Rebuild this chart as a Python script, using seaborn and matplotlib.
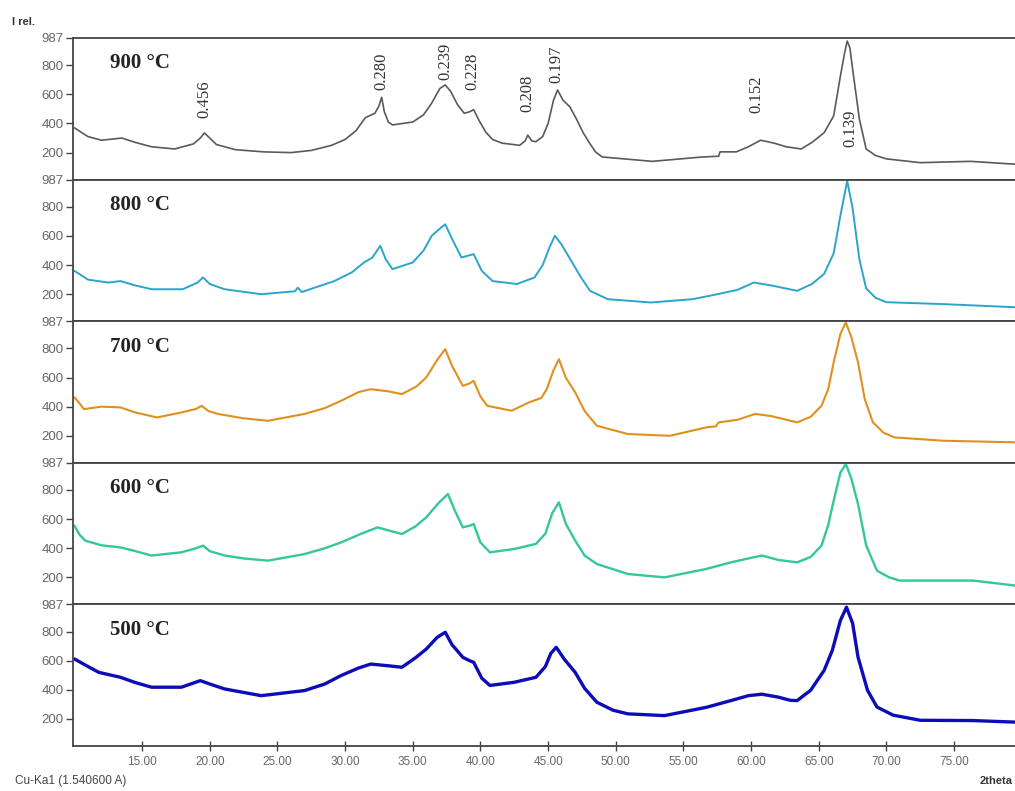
import numpy as np
import pandas as pd
import seaborn as sns
import matplotlib
matplotlib.use("Agg")
import matplotlib.pyplot as plt

sns.set_style("white")
plt.rcParams['font.family'] = ['Liberation Sans', 'DejaVu Sans']

# XRD patterns (2theta in degrees, relative intensity)
tt_900 = [10.0, 11.0, 12.0, 13.5, 14.5, 15.7, 17.4, 18.8, 19.3, 19.6, 20.0, 20.5, 21.9, 24.0,
          26.0, 27.5, 29.0, 30.0, 30.8, 31.5, 32.2, 32.5, 32.7, 32.9, 33.2, 33.5, 35.0, 35.8,
          36.4, 37.0, 37.4, 37.8, 38.3, 38.8, 39.2, 39.5, 39.9, 40.4, 40.9, 41.6, 42.9, 43.3,
          43.5, 43.8, 44.1, 44.6, 45.0, 45.4, 45.7, 46.1, 46.6, 47.1, 47.6, 48.1, 48.5, 49.0,
          52.7, 56.4, 57.6, 57.7, 58.9, 59.8, 60.7, 61.7, 62.6, 63.7, 64.5, 65.4, 66.1, 66.6,
          66.9, 67.1, 67.3, 67.5, 68.0, 68.5, 69.2, 70.0, 72.5, 76.2, 79.6]
i_900 = [370, 310, 285, 300, 270, 240, 225, 260, 300, 335, 300, 255, 220, 205,
         200, 215, 250, 290, 350, 440, 470, 520, 580, 480, 410, 390, 410, 460,
         540, 640, 665, 620, 530, 470, 480, 495, 420, 340, 290, 265, 250, 280,
         320, 280, 275, 310, 400, 560, 630, 560, 515, 430, 335, 260, 205, 170,
         140, 170, 175, 205, 205, 240, 285, 265, 240, 225, 270, 337, 452, 726,
         880, 966, 920, 774, 431, 225, 180, 157, 131, 140, 120]

tt_800 = [10.0, 11.0, 12.5, 13.4, 14.5, 15.7, 18.0, 19.1, 19.5, 20.0, 21.1, 23.8, 26.3, 26.5,
          26.8, 29.2, 30.5, 31.4, 32.0, 32.6, 33.0, 33.5, 35.0, 35.8, 36.4, 37.0, 37.4, 37.9,
          38.6, 39.1, 39.5, 40.1, 40.9, 42.7, 44.0, 44.6, 45.1, 45.5, 46.0, 46.7, 47.4, 48.1,
          49.4, 52.6, 55.7, 57.5, 59.0, 60.2, 61.5, 63.4, 64.5, 65.4, 66.1, 66.6, 67.1, 67.5,
          68.0, 68.5, 69.2, 70.0, 74.2, 79.6]
i_800 = [360, 300, 280, 290, 260, 234, 234, 280, 315, 270, 234, 200, 220, 245,
         215, 290, 350, 418, 450, 532, 440, 372, 418, 500, 601, 650, 680, 580,
         452, 465, 475, 360, 290, 270, 315, 400, 520, 601, 540, 430, 320, 223,
         166, 143, 166, 200, 230, 280, 260, 223, 270, 340, 480, 740, 978, 790,
         440, 240, 175, 145, 132, 110]

tt_700 = [10.0, 10.4, 10.7, 12.0, 13.4, 14.5, 16.1, 17.9, 19.0, 19.4, 19.9, 20.6, 22.5, 24.3,
          27.0, 28.5, 29.7, 31.0, 31.9, 33.2, 34.2, 35.3, 36.0, 36.8, 37.4, 37.9, 38.7, 39.2,
          39.5, 40.0, 40.5, 42.3, 43.6, 44.5, 44.9, 45.4, 45.8, 46.3, 47.0, 47.7, 48.6, 50.9,
          54.0, 56.7, 57.4, 57.6, 59.0, 60.3, 61.5, 63.4, 64.4, 65.2, 65.7, 66.1, 66.6, 67.0,
          67.4, 67.9, 68.4, 69.0, 69.8, 70.6, 74.2, 79.6]
i_700 = [464, 420, 383, 400, 395, 360, 326, 360, 385, 406, 370, 350, 320, 303,
         350, 390, 440, 500, 520, 505, 486, 540, 601, 720, 795, 680, 543, 560,
         577, 470, 406, 372, 430, 460, 520, 650, 726, 600, 498, 370, 269, 212,
         200, 258, 265, 292, 310, 350, 335, 292, 330, 406, 520, 704, 900, 978,
         880, 704, 450, 292, 220, 189, 166, 155]

tt_600 = [10.0, 10.4, 10.8, 12.0, 13.4, 14.5, 15.7, 17.9, 19.0, 19.5, 20.0, 21.1, 22.5, 24.3,
          27.0, 28.5, 29.7, 31.2, 32.4, 33.3, 34.2, 35.2, 36.0, 36.9, 37.6, 38.1, 38.7, 39.2,
          39.5, 40.0, 40.7, 42.5, 44.1, 44.8, 45.3, 45.8, 46.3, 47.0, 47.7, 48.6, 50.9, 53.6,
          56.7, 58.5, 59.8, 60.8, 62.0, 63.4, 64.4, 65.2, 65.7, 66.1, 66.6, 67.0, 67.4, 67.9,
          68.5, 69.3, 70.2, 71.0, 76.4, 79.6]
i_600 = [555, 490, 452, 420, 406, 380, 350, 372, 400, 418, 380, 350, 330, 315,
         360, 400, 440, 500, 543, 520, 498, 550, 612, 710, 772, 660, 543, 555,
         566, 440, 372, 395, 430, 500, 640, 715, 570, 452, 350, 292, 223, 200,
         258, 303, 330, 350, 320, 303, 340, 418, 560, 726, 920, 978, 880, 704,
         420, 246, 200, 178, 178, 143]

tt_500 = [10.0, 11.0, 11.8, 13.4, 14.5, 15.7, 17.9, 19.3, 20.0, 21.1, 23.8, 27.0, 28.5, 29.7,
          31.0, 31.9, 33.2, 34.2, 35.2, 36.0, 36.8, 37.4, 37.9, 38.7, 39.2, 39.5, 40.1, 40.7,
          42.5, 44.1, 44.8, 45.2, 45.6, 46.2, 47.0, 47.7, 48.6, 49.8, 50.9, 53.6, 56.7, 58.5,
          59.8, 60.8, 62.0, 62.9, 63.4, 64.4, 65.4, 66.0, 66.6, 67.05, 67.5, 67.9, 68.6, 69.3,
          70.5, 72.5, 76.4, 79.6]
i_500 = [612, 560, 520, 486, 450, 418, 418, 463, 440, 406, 360, 395, 440, 498,
         550, 577, 565, 555, 620, 680, 760, 795, 710, 623, 600, 589, 480, 430,
         452, 486, 560, 650, 692, 610, 520, 410, 315, 260, 235, 223, 280, 326,
         360, 370, 350, 328, 326, 397, 534, 671, 877, 967, 857, 625, 397, 282,
         226, 191, 189, 178]

temps = ['900 °C', '800 °C', '700 °C', '600 °C', '500 °C']
colors = ['#5a5a5a', '#2ba5c9', '#e0901f', '#34c79c', '#0c0cb8']

# d-spacings marked on the 900 °C pattern
peak_labels = ['0.456', '0.280', '0.239', '0.228', '0.208', '0.197', '0.152', '0.139']
peak_tt = [19.6, 32.7, 37.4, 39.4, 43.5, 45.6, 60.4, 67.3]
peak_y = [440, 630, 700, 630, 480, 680, 474, 240]

yticks = [200, 400, 600, 800, 987]
xticks = [15, 20, 25, 30, 35, 40, 45, 50, 55, 60, 65, 70, 75]

series = [(tt_900, i_900), (tt_800, i_800), (tt_700, i_700), (tt_600, i_600), (tt_500, i_500)]
widths = [1.2, 1.4, 1.5, 1.7, 2.4]

fig, axes = plt.subplots(5, 1, figsize=(10.15, 7.91), dpi=100, sharex=True)
fig.subplots_adjust(left=0.072, right=1.0, top=0.952, bottom=0.057, hspace=0)

for ax, (tt, ii), temp, col, lw in zip(axes, series, temps, colors, widths):
    df = pd.DataFrame({'2theta': tt, 'I': ii})
    sns.lineplot(data=df, x='2theta', y='I', ax=ax, color=col, linewidth=lw)
    ax.set_xlim(9.9, 79.5)
    ax.set_ylim(15, 987)
    ax.set_yticks(yticks)
    ax.set_yticklabels([str(t) for t in yticks], fontsize=9.5, color='#666666')
    ax.tick_params(axis='y', direction='out', length=5, width=1, color='#444444', pad=2, left=True)
    ax.set_xlabel('')
    ax.set_ylabel('')
    for s in ['top', 'left', 'bottom']:
        ax.spines[s].set_color('#444444')
        ax.spines[s].set_linewidth(1.3)
    ax.spines['right'].set_visible(False)
    ax.text(0.039, 0.82, temp, transform=ax.transAxes, fontsize=15, fontweight='bold',
            family='Liberation Serif', color='#222222', va='center', ha='left')

for ax in axes[:-1]:
    ax.tick_params(axis='x', bottom=False, labelbottom=False)

bottom = axes[-1]
bottom.set_xticks(xticks)
bottom.set_xticklabels(['%.2f' % t for t in xticks], fontsize=8.5, color='#666666')
bottom.tick_params(axis='x', direction='inout', length=7, width=1, color='#444444', pad=4, bottom=True)

top = axes[0]
for lab, x, y in zip(peak_labels, peak_tt, peak_y):
    top.text(x, y, lab, rotation=90, ha='center', va='bottom', fontsize=12,
             family='Liberation Serif', color='#333333')

fig.text(0.012, 0.972, 'I rel.', fontsize=8, fontweight='bold', color='#333333', va='center')
fig.text(0.015, 0.0125, 'Cu-Ka1 (1.540600 A)', fontsize=8.5, color='#444444', va='center')
fig.text(0.998, 0.0125, '2theta', fontsize=8, fontweight='bold', color='#333333',
         va='center', ha='right')

fig.savefig('out.png', dpi=100)
